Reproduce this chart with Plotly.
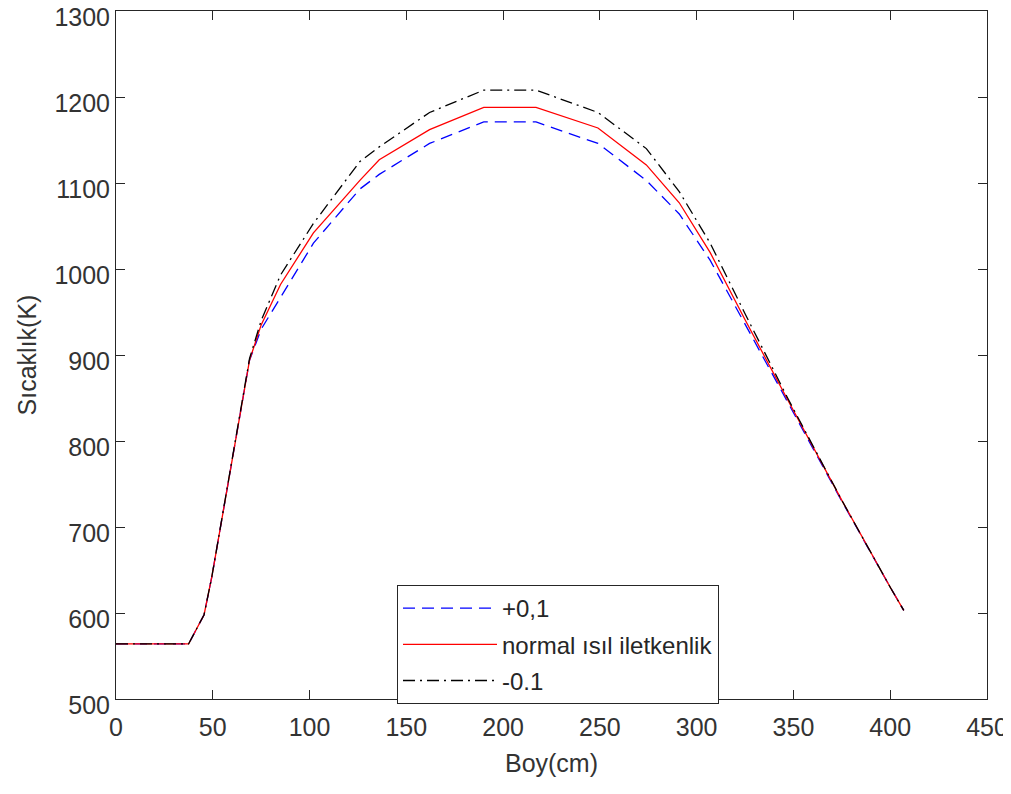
import plotly.graph_objects as go

boy = [0, 37.5, 45.5, 49.5, 69, 75, 85, 102, 126, 136, 162, 190, 217, 249, 274, 291, 307, 325, 347, 375, 400, 407]
arti = [564, 564, 598, 642, 894, 930, 967, 1030, 1093, 1110, 1146, 1171, 1171, 1146, 1103, 1064, 1010, 936, 846, 730, 630, 603]
normal = [564, 564, 598, 642, 894, 935, 982, 1042, 1103, 1127, 1162, 1188, 1188, 1164, 1121, 1077, 1019, 941, 848, 731, 630, 603]
eksi = [564, 564, 598, 642, 896, 940, 993, 1053, 1125, 1142, 1182, 1208, 1208, 1182, 1140, 1090, 1030, 948, 850, 731, 630, 603]

names = ["+0,1", "normal ısıl iletkenlik", "-0.1"]
xticks = [0, 50, 100, 150, 200, 250, 300, 350, 400, 450]
yticks = [500, 600, 700, 800, 900, 1000, 1100, 1200, 1300]

fig = go.Figure()
fig.add_trace(go.Scatter(x=boy, y=arti, mode="lines", name=names[0], legendgroup="a",
                         line=dict(color="#0000ff", width=1.3, dash="12px,7px")))
fig.add_trace(go.Scatter(x=boy, y=normal, mode="lines", name=names[1], legendgroup="b",
                         line=dict(color="#ff0000", width=1.3)))
fig.add_trace(go.Scatter(x=boy, y=eksi, mode="lines", name=names[2], legendgroup="c",
                         line=dict(color="#000000", width=1.3, dash="12px,5px,2px,5px")))

axcol = "#262626"
fnt = "Liberation Sans, Arial"
common = dict(showgrid=False, zeroline=False, showline=True, linecolor=axcol, linewidth=1,
              mirror="ticks", ticks="inside", ticklen=9, tickcolor=axcol, tickwidth=1,
              automargin=False, ticklabeloverflow="allow",
              tickfont=dict(family=fnt, size=25, color="#333333"))
fig.update_xaxes(range=[0, 450], tickvals=xticks, ticklabelstandoff=6,
                 title=dict(text="Boy(cm)", font=dict(family=fnt, size=25, color="#333333"), standoff=14),
                 **common)
fig.update_yaxes(range=[500, 1300], tickvals=yticks, ticklabelstandoff=0, ticklabelshift=6,
                 title=dict(text="Sıcaklık(K)", font=dict(family=fnt, size=25, color="#333333"), standoff=10),
                 **common)

# page body has an 8px margin: figure is offset by 8px in x and y
fig.update_layout(
    width=1003, height=786,
    margin=dict(l=108, r=24, t=3, b=95),
    paper_bgcolor="white", plot_bgcolor="white",
    legend=dict(x=(397 - 116) / 871, y=(699 - 585) / 688, xanchor="left", yanchor="top",
                bgcolor="white", bordercolor="#262626", borderwidth=1,
                font=dict(family=fnt, size=24, color="#262626"),
                tracegroupgap=2, itemwidth=94),
    showlegend=True,
)

fig.write_html("out.html")
